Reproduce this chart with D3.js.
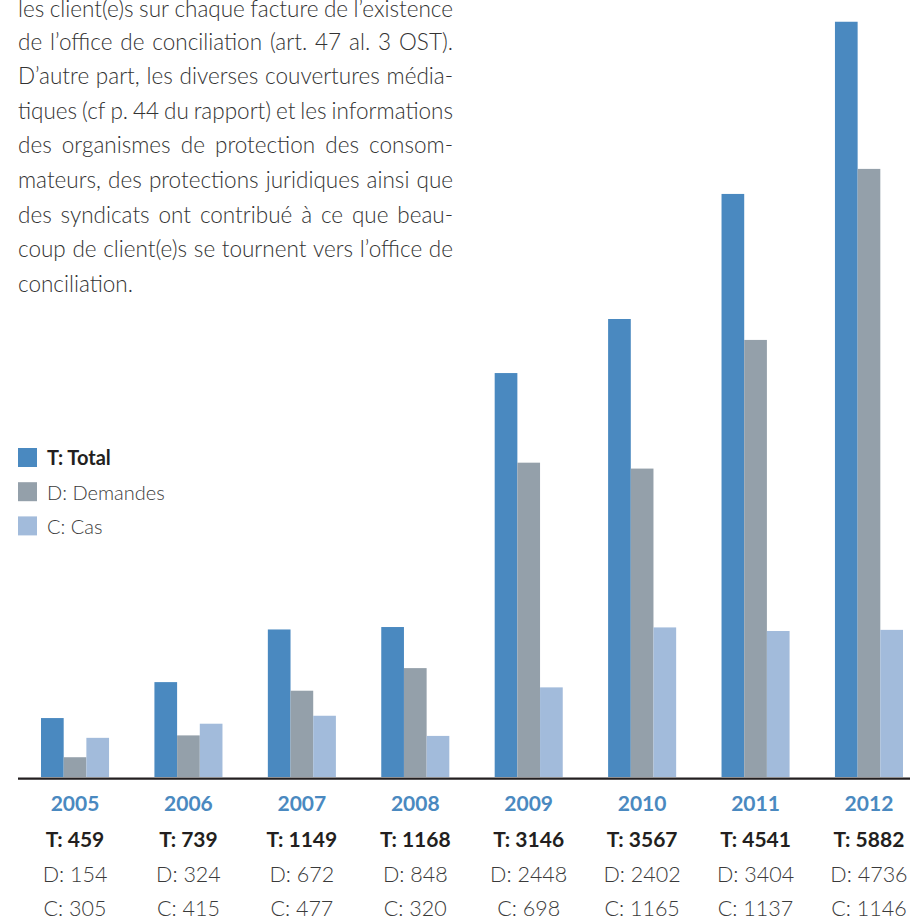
<!DOCTYPE html>
<html><head><meta charset="utf-8">
<script src="https://cdn.jsdelivr.net/npm/d3@7"></script>
<style>html,body{margin:0;padding:0;background:#fff;} svg{display:block;}</style>
</head><body><svg id="c" width="910" height="918"></svg>
<script>
const years = ["2005","2006","2007","2008","2009","2010","2011","2012"];
const totals = [459,739,1149,1168,3146,3567,4541,5882];
const demandes = [154,324,672,848,2448,2402,3404,4736];
const cas = [305,415,477,320,698,1165,1137,1146];
const seriesKeys = ["T","D","C"];
const legendLabels = ["T: Total","D: Demandes","C: Cas"];
const paragraphLines = [
  "les client(e)s sur chaque facture de l’existence",
  "de l’office de conciliation (art. 47 al. 3 OST).",
  "D’autre part, les diverses couvertures média-",
  "tiques (cf p. 44 du rapport) et les informations",
  "des organismes de protection des consom-",
  "mateurs, des protections juridiques ainsi que",
  "des syndicats ont contribué à ce que beau-",
  "coup de client(e)s se tournent vers l’office de",
  "conciliation."
];

const colors = {T:"#4a89c0", D:"#94a0aa", C:"#a2bbdb"};
const FONT = "Lato, 'Open Sans', sans-serif";
const svg = d3.select("#c");

const base = 777;
const y = d3.scaleLinear().domain([0,6000]).range([base, 6.6]);
const x0 = d3.scaleBand().domain(years).range([41, 903]).paddingInner(0.4).paddingOuter(0);
const x1 = d3.scaleBand().domain(seriesKeys).range([0, x0.bandwidth()]);

const data = years.map((yr,i)=>({year:yr, T:totals[i], D:demandes[i], C:cas[i]}));

// paragraph (justified)
const paraX = 18, paraW = 435, lineH = 34.6, firstBase = 15;
const para = svg.append("g").attr("font-family", FONT).attr("font-weight", 300)
  .attr("font-size", 22.5).attr("fill", "#333");
paragraphLines.forEach((line, li) => {
  const yy = li === 0 ? 17 : firstBase + li*lineH;
  const words = line.split(" ");
  const last = li === paragraphLines.length - 1;
  const nodes = words.map(w => para.append("text").attr("y", yy).text(w));
  let widths = nodes.map(n => n.node().getComputedTextLength());
  let sum = d3.sum(widths);
  const minGap = 4;
  if (!last && sum + minGap*(words.length-1) > paraW) {
    const f = (paraW - minGap*(words.length-1)) / sum;
    nodes.forEach(n => n.attr("font-size", 22.5*f));
    widths = nodes.map(n => n.node().getComputedTextLength());
    sum = d3.sum(widths);
  }
  const gap = last ? 6 : (paraW - sum) / (words.length - 1);
  let cx = paraX;
  nodes.forEach((n,k) => { n.attr("x", cx); cx += widths[k] + gap; });
});

// bars
const groups = svg.append("g").selectAll("g").data(data).join("g")
  .attr("transform", d => `translate(${x0(d.year)},0)`);
groups.selectAll("rect").data(d => seriesKeys.map(k => ({k, v:d[k]}))).join("rect")
  .attr("x", d => x1(d.k)).attr("width", x1.bandwidth())
  .attr("y", d => y(d.v)).attr("height", d => base - y(d.v))
  .attr("fill", d => colors[d.k]);

// baseline
svg.append("line").attr("x1", 18).attr("x2", 910).attr("y1", 778.6).attr("y2", 778.6)
  .attr("stroke", "#231f20").attr("stroke-width", 2.4);

// labels under bars
const lab = svg.append("g").attr("font-family", FONT).attr("text-anchor", "middle");
data.forEach(d => {
  const cx = x0(d.year) + x0.bandwidth()/2;
  lab.append("text").attr("x", cx).attr("y", 811).attr("font-size", 21).attr("font-weight", 700)
    .attr("fill", "#4a89c0").text(d.year);
  lab.append("text").attr("x", cx).attr("y", 847).attr("font-size", 21).attr("font-weight", 700)
    .attr("fill", "#231f20").text("T: " + d.T);
  lab.append("text").attr("x", cx).attr("y", 882).attr("font-size", 21.5).attr("font-weight", 300)
    .attr("fill", "#3a3a3a").text("D: " + d.D);
  lab.append("text").attr("x", cx).attr("y", 916).attr("font-size", 21.5).attr("font-weight", 300)
    .attr("fill", "#3a3a3a").text("C: " + d.C);
});

// legend
const leg = svg.append("g").attr("font-family", FONT).attr("font-size", 20);
seriesKeys.forEach((k,i) => {
  leg.append("rect").attr("x", 18).attr("y", 448 + i*34.2).attr("width", 19).attr("height", 19)
    .attr("fill", colors[k]);
  leg.append("text").attr("x", 47).attr("y", 465 + i*34.5)
    .attr("font-weight", i===0 ? 700 : 300)
    .attr("fill", i===0 ? "#231f20" : "#3a3a3a").text(legendLabels[i]);
});
</script></body></html>
